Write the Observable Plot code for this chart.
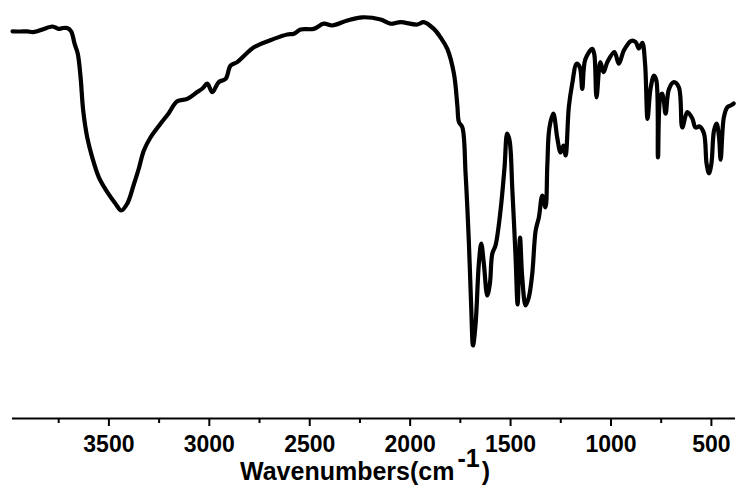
<!DOCTYPE html>
<html>
<head>
<meta charset="utf-8">
<script src="https://cdn.jsdelivr.net/npm/d3@7"></script>
<script src="https://cdn.jsdelivr.net/npm/@observablehq/plot@0.6"></script>
<style>
  html, body { margin: 0; padding: 0; background: #fff; }
  #chart { width: 736px; height: 491px; }
</style>
</head>
<body>
<div id="chart"></div>
<script>
// FTIR spectrum: wavenumber (cm^-1) vs transmittance (arbitrary %)
const wavenumber = [
  3980, 3940, 3907, 3880, 3857, 3824, 3782, 3766, 3749, 3731, 3708, 3688, 3671, 3655, 3641, 3628,
  3608, 3583, 3550, 3508, 3467, 3439, 3409, 3376, 3351, 3326, 3293, 3243, 3203, 3160, 3110, 3060,
  3034, 3010, 2985, 2953, 2919, 2894, 2861, 2820, 2778, 2679, 2612, 2579, 2546, 2480, 2430, 2388,
  2313, 2239, 2147, 2098, 2048, 1965, 1932, 1882, 1849, 1815, 1782, 1765, 1757, 1740, 1724, 1708,
  1696, 1687, 1674, 1658, 1646, 1633, 1616, 1603, 1591, 1575, 1550, 1530, 1517, 1505, 1491, 1475,
  1465, 1453, 1442, 1425, 1409, 1392, 1375, 1359, 1342, 1326, 1317, 1307, 1287, 1267, 1251, 1237,
  1226, 1210, 1193, 1171, 1155, 1143, 1128, 1093, 1083, 1072, 1053, 1037, 1018, 983, 961, 936,
  900, 877, 861, 844, 830, 818, 803, 786, 774, 766, 753, 744, 728, 712, 687, 662,
  645, 620, 595, 579, 559, 537, 524, 512, 500, 487, 474, 462, 454, 438, 421, 404, 389
];
const transmittance = [
  96.8, 96.75, 96.8, 96.6, 96.8, 97.4, 98.0, 97.75, 97.4, 97.6, 97.6, 96.8, 93.7, 91.2, 85.3, 77.0,
  70.3, 65.3, 60.3, 56.6, 53.7, 52.0, 53.7, 58.5, 62.5, 67.0, 70.25, 73.7, 76.25, 79.3, 79.9, 81.6,
  82.5, 83.7, 81.6, 84.1, 84.9, 88.25, 89.1, 91.0, 92.8, 94.9, 96.0, 96.2, 97.25, 97.4, 98.7, 98.25,
  99.5, 100.3, 99.75, 98.7, 99.1, 98.5, 99.1, 97.4, 95.3, 92.4, 86.2, 78.25, 74.1, 72.8, 61.2, 44.5,
  27.8, 18.25, 23.7, 38.7, 43.7, 38.7, 30.75, 33.7, 41.2, 43.25, 52.0, 62.8, 71.2, 69.5, 57.0, 40.3,
  28.5, 45.25, 35.3, 28.25, 30.3, 36.2, 47.0, 50.3, 55.75, 52.8, 63.25, 72.5, 76.2, 70.0, 66.5, 68.25,
  65.75, 77.8, 83.7, 88.7, 87.8, 82.4, 89.75, 92.4, 91.0, 80.3, 89.1, 86.6, 89.1, 91.6, 88.7, 92.0,
  94.4, 94.1, 92.5, 93.9, 88.5, 74.9, 82.5, 85.75, 84.5, 65.3, 80.75, 81.2, 76.2, 82.25, 84.1, 82.8,
  72.75, 76.6, 75.0, 72.75, 73.0, 71.25, 63.7, 61.3, 63.7, 72.0, 73.7, 70.3, 64.7, 75.3, 77.8, 78.25, 78.75
];
const majorTicks = [3500, 3000, 2500, 2000, 1500, 1000, 500];
const minorTicks = [3750, 3250, 2750, 2250, 1750, 1250, 750];
const xLabel = "Wavenumbers(cm";
const xLabelSup = "-1";
const xLabelEnd = ")";

const spectrum = wavenumber.map((w, i) => ({w, t: transmittance[i]}));

const font = "'Liberation Sans', Arial, Helvetica, sans-serif";

const chart = Plot.plot({
  width: 736,
  height: 491,
  marginLeft: 12,
  marginRight: 1,
  marginTop: 10,
  marginBottom: 73,
  style: {fontFamily: font, fontSize: "23px", fontWeight: "bold", background: "#fff", color: "#000", overflow: "visible"},
  x: {domain: [3980, 380]},
  y: {domain: [0, 102], axis: null},
  marks: [
    Plot.ruleY([0], {stroke: "#000", strokeWidth: 2}),
    Plot.axisX({ticks: minorTicks, tickSize: 5, strokeWidth: 2, text: null, label: null}),
    Plot.axisX({ticks: majorTicks, tickSize: 8, tickPadding: 9, strokeWidth: 2, label: null,
      fontSize: 23, fontWeight: "bold", tickFormat: d => String(d)}),
    Plot.line(spectrum, {x: "w", y: "t", stroke: "#000", strokeWidth: 4.2, curve: "catmull-rom", strokeLinejoin: "round", strokeLinecap: "round"})
  ]
});

const svg = d3.select(chart);
const label = svg.append("text")
  .attr("x", 240).attr("y", 480)
  .attr("text-anchor", "start")
  .attr("font-family", font).attr("font-size", 25).attr("font-weight", "bold")
  .attr("fill", "#000");
label.append("tspan").text(xLabel);
label.append("tspan").attr("dx", 3).attr("dy", -13).text(xLabelSup);
label.append("tspan").attr("dx", 2).attr("dy", 13).text(xLabelEnd);

document.getElementById("chart").appendChild(chart);
</script>
</body>
</html>
